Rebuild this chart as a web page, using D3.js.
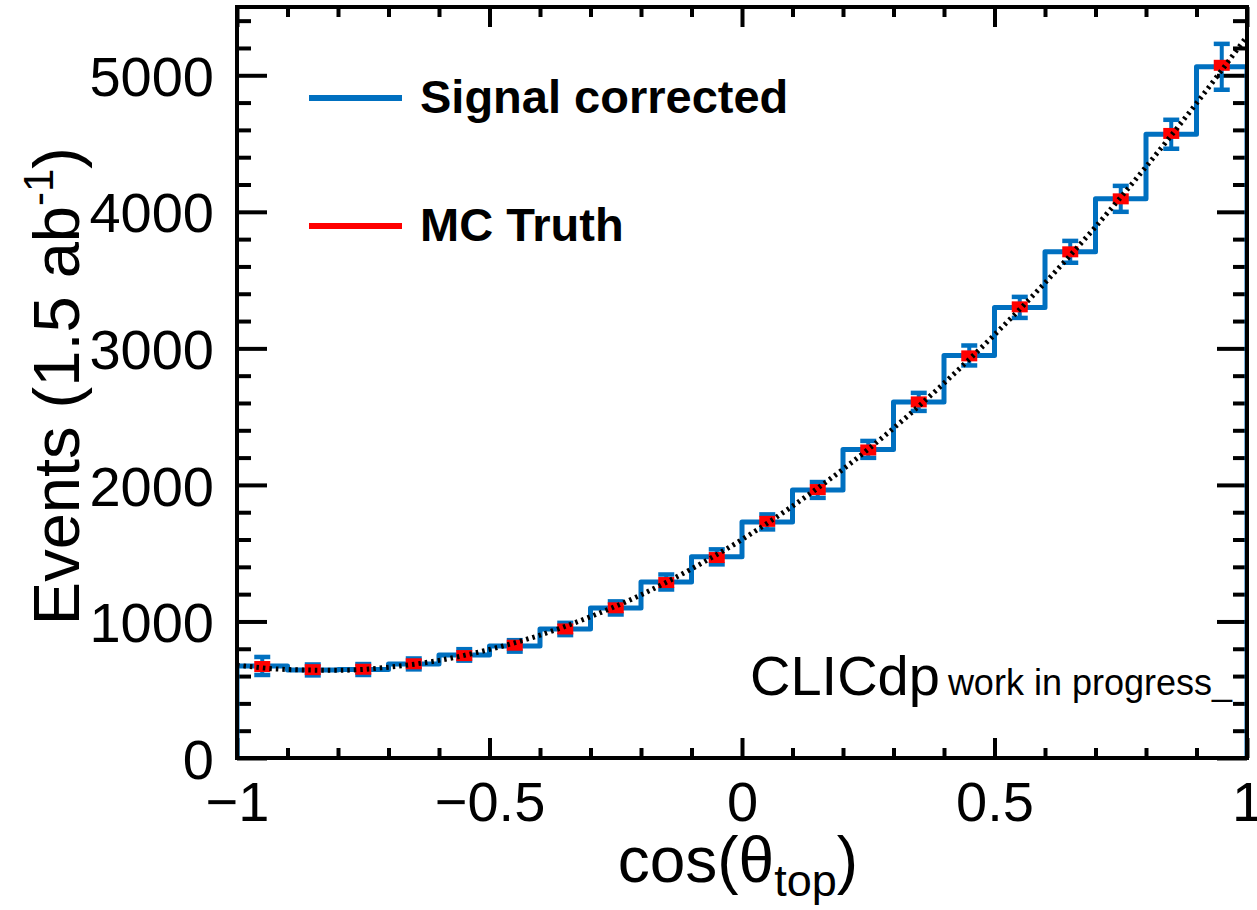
<!DOCTYPE html>
<html><head><meta charset="utf-8">
<script src="https://cdn.jsdelivr.net/npm/d3@7"></script>
<style>
body{margin:0;background:#fff}
svg{display:block}
text{font-family:"Liberation Sans",Arial,Helvetica,sans-serif;fill:#000}
</style></head>
<body><svg id="c" width="1257" height="910"></svg>
<script>
// ---- data ----
const binLow = [-1.0,-0.9,-0.8,-0.7,-0.6,-0.5,-0.4,-0.3,-0.2,-0.1,0.0,0.1,0.2,0.3,0.4,0.5,0.6,0.7,0.8,0.9];
const binWidth = 0.1;
const signalCorrected = [674,645,648,689,755,821,945,1099,1289,1473,1729,1963,2260,2608,2948,3300,3707,4095,4568,5062];
const signalErr = [66,40,40,40,42,42,45,48,55,55,55,58,62,66,73,77,80,95,106,168];
const mcTruth = [670,647,650,690,750,826,945,1100,1285,1468,1733,1966,2256,2608,2945,3304,3707,4095,4574,5073];
const fitX = [-1.0,-0.9,-0.8,-0.7,-0.6,-0.5,-0.4,-0.3,-0.2,-0.1,0.0,0.1,0.2,0.3,0.4,0.5,0.6,0.7,0.8,0.9,1.0];
const fitY = [680,648,642,665,715,795,900,1035,1195,1385,1600,1845,2115,2415,2745,3100,3480,3890,4330,4795,5285];
const xMajor = [-1,-0.5,0,0.5,1];
const xTickLabels = ["\u22121","\u22120.5","0","0.5","1"];
const yMajor = [0,1000,2000,3000,4000,5000];
const yTickLabels = ["0","1000","2000","3000","4000","5000"];
const xMinorStep = 0.1, yMinorStep = 200;
const legendLabels = ["Signal corrected","MC Truth"];

// ---- layout ----
const L=237,R=1247,T=7,B=758;
const BLUE="#0070c0", RED="#ff0000";
const svg=d3.select("#c");
const x=d3.scaleLinear().domain([-1,1]).range([L,R]);
const y=d3.scaleLinear().domain([0,5500]).range([B,T]);

svg.append("defs").append("clipPath").attr("id","plot")
  .append("rect").attr("x",L).attr("y",T).attr("width",R-L).attr("height",B-T);

const xMinor = d3.range(-10,11).map(i=>i*xMinorStep).filter(v=>!xMajor.some(m=>Math.abs(m-v)<1e-9));
const yMinor = d3.range(0,28).map(i=>i*yMinorStep).filter(v=>v<=5500 && !yMajor.includes(v));

function styleAxis(g){
  g.select(".domain").remove();
  g.selectAll(".tick line").attr("stroke","#000").attr("stroke-width",4);
}
// bottom
svg.append("g").attr("transform",`translate(0,${B})`)
  .call(d3.axisBottom(x).tickValues(xMajor).tickSizeInner(-20).tickSizeOuter(0).tickFormat((d,i)=>xTickLabels[i]))
  .call(styleAxis)
  .call(g=>g.selectAll(".tick text").attr("y",63).attr("dy",0).attr("font-size",56).attr("fill","#000").attr("font-family","Liberation Sans, Arial, sans-serif"));
svg.append("g").attr("transform",`translate(0,${B})`)
  .call(d3.axisBottom(x).tickValues(xMinor).tickSizeInner(-10).tickSizeOuter(0).tickFormat(""))
  .call(styleAxis);
// top
svg.append("g").attr("transform",`translate(0,${T})`)
  .call(d3.axisTop(x).tickValues(xMajor).tickSizeInner(-20).tickSizeOuter(0).tickFormat(""))
  .call(styleAxis);
svg.append("g").attr("transform",`translate(0,${T})`)
  .call(d3.axisTop(x).tickValues(xMinor).tickSizeInner(-10).tickSizeOuter(0).tickFormat(""))
  .call(styleAxis);
// left
svg.append("g").attr("transform",`translate(${L},0)`)
  .call(d3.axisLeft(y).tickValues(yMajor).tickSizeInner(-30).tickSizeOuter(0).tickFormat((d,i)=>yTickLabels[i]))
  .call(styleAxis)
  .call(g=>g.selectAll(".tick text").attr("x",-23).attr("dy","0.36em").attr("font-size",56).attr("fill","#000").attr("font-family","Liberation Sans, Arial, sans-serif"));
svg.append("g").attr("transform",`translate(${L},0)`)
  .call(d3.axisLeft(y).tickValues(yMinor).tickSizeInner(-14).tickSizeOuter(0).tickFormat(""))
  .call(styleAxis);
// right
svg.append("g").attr("transform",`translate(${R},0)`)
  .call(d3.axisRight(y).tickValues(yMajor).tickSizeInner(-30).tickSizeOuter(0).tickFormat(""))
  .call(styleAxis);
svg.append("g").attr("transform",`translate(${R},0)`)
  .call(d3.axisRight(y).tickValues(yMinor).tickSizeInner(-14).tickSizeOuter(0).tickFormat(""))
  .call(styleAxis);

const plot=svg.append("g").attr("clip-path","url(#plot)");

// histogram outline
const pts=[[x(binLow[0]),y(0)]];
binLow.forEach((lo,i)=>{
  pts.push([x(lo),y(signalCorrected[i])]);
  pts.push([x(lo+binWidth),y(signalCorrected[i])]);
});
pts.push([x(binLow[binLow.length-1]+binWidth),y(0)]);
plot.append("path").attr("d",d3.line()(pts)).attr("fill","none")
  .attr("stroke",BLUE).attr("stroke-width",5).attr("stroke-linejoin","round");

// error bars
const eb=plot.append("g").attr("stroke",BLUE).attr("stroke-width",4.5);
binLow.forEach((lo,i)=>{
  const cx=x(lo+binWidth/2), v=signalCorrected[i], e=signalErr[i];
  eb.append("line").attr("x1",cx).attr("x2",cx).attr("y1",y(v-e)).attr("y2",y(v+e)).attr("stroke-width",4);
  eb.append("line").attr("x1",cx-8).attr("x2",cx+8).attr("y1",y(v-e)).attr("y2",y(v-e));
  eb.append("line").attr("x1",cx-8).attr("x2",cx+8).attr("y1",y(v+e)).attr("y2",y(v+e));
});
// MC truth markers
plot.append("g").selectAll("rect").data(mcTruth).join("rect")
  .attr("x",(d,i)=>x(binLow[i]+binWidth/2)-8).attr("y",d=>y(d)-5.5)
  .attr("width",16).attr("height",11).attr("fill",RED);

// fit curve
plot.append("path")
  .attr("d",d3.line().x(d=>x(d[0])).y(d=>y(d[1])).curve(d3.curveMonotoneX)(fitX.map((v,i)=>[v,fitY[i]])))
  .attr("fill","none").attr("stroke","#000").attr("stroke-width",5).attr("stroke-dasharray","2.5,4");

// frame
svg.append("rect").attr("x",L).attr("y",T).attr("width",R-L).attr("height",B-T)
  .attr("fill","none").attr("stroke","#000").attr("stroke-width",4);

// legend
const legColors=[BLUE,RED], legY=[98,226];
legendLabels.forEach((t,i)=>{
  svg.append("line").attr("x1",309).attr("x2",402).attr("y1",legY[i]).attr("y2",legY[i])
    .attr("stroke",legColors[i]).attr("stroke-width",6);
  svg.append("text").attr("x",420).attr("y",legY[i]+15).attr("font-size",47).attr("font-weight","bold").text(t);
});

// CLICdp label
const lab=svg.append("text").attr("x",1232).attr("y",695).attr("text-anchor","end");
lab.append("tspan").attr("font-size",56).text("CLICdp");
lab.append("tspan").attr("font-size",36).attr("dx",8).text("work in progress_");

// axis titles
const xt=svg.append("text").attr("x",858).attr("y",882).attr("text-anchor","end").attr("font-size",64);
xt.append("tspan").text("cos(\u03b8");
xt.append("tspan").attr("font-size",45).attr("dy",14).text("top");
xt.append("tspan").attr("dy",-14).text(")");

const yt=svg.append("text").attr("transform","translate(79,147) rotate(-90)").attr("text-anchor","end").attr("font-size",65);
yt.append("tspan").text("Events (1.5 ab");
yt.append("tspan").attr("font-size",42).attr("dy",-26).text("-1");
yt.append("tspan").attr("dy",26).text(")");
</script></body></html>
